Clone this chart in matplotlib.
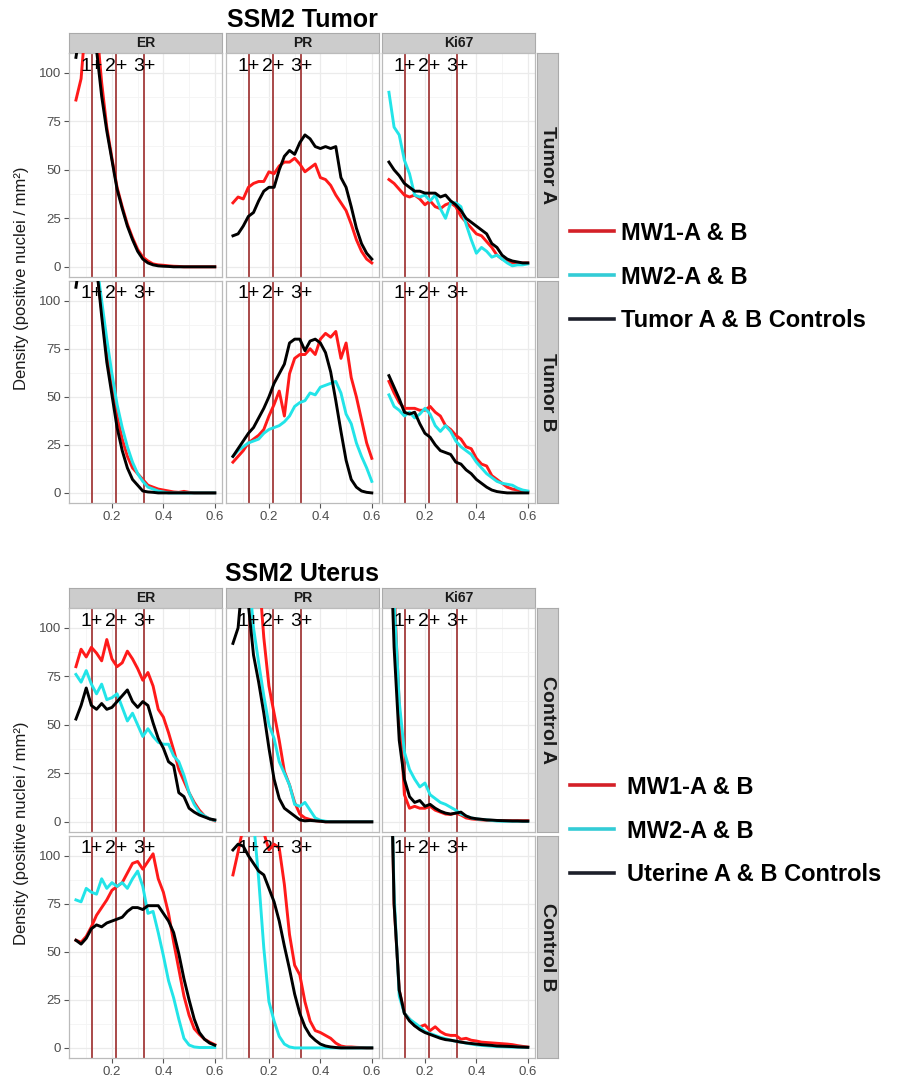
import matplotlib
matplotlib.use("Agg")
import matplotlib.pyplot as plt
from matplotlib.lines import Line2D

plt.rcParams['font.family'] = ['Liberation Sans', 'DejaVu Sans']

# x positions (intensity) shared by all curves
x = [0.06, 0.08, 0.10, 0.12, 0.14, 0.16, 0.18, 0.20, 0.22, 0.24, 0.26, 0.28, 0.30, 0.32,
     0.34, 0.36, 0.38, 0.40, 0.42, 0.44, 0.46, 0.48, 0.50, 0.52, 0.54, 0.56, 0.58, 0.60]

markers = ['ER', 'PR', 'Ki67']
tumor_rows = ['Tumor A', 'Tumor B']
uterus_rows = ['Control A', 'Control B']
cutoffs = [0.122, 0.216, 0.326]
cutoff_labels = ['1+', '2+', '3+']

# ---- SSM2 Tumor ----
tumorA_ER_mw1 = [86, 97, 130, 130, 125, 95, 72, 56, 41, 31, 22, 15, 9, 5, 3, 1.5, 1, 0.8, 0.5, 0.3, 0.2, 0, 0, 0, 0, 0, 0, 0]
tumorA_ER_mw2 = None
tumorA_ER_ctrl = [108, 125, 135, 130, 112, 88, 70, 55, 40, 30, 21, 14, 8, 4, 2, 1, 0.5, 0.3, 0.2, 0, 0, 0, 0, 0, 0, 0, 0, 0]
tumorA_PR_mw1 = [33, 36, 35, 41, 43, 44, 44, 49, 48, 52, 54, 54, 56, 53, 49, 51, 53, 46, 45, 42, 37, 33, 29, 22, 14, 8, 4, 2]
tumorA_PR_mw2 = None
tumorA_PR_ctrl = [16, 17, 21, 26, 28, 34, 39, 41, 41, 50, 57, 60, 58, 64, 68, 66, 62, 61, 62, 61, 62, 46, 41, 31, 20, 12, 7, 4]
tumorA_Ki67_mw1 = [45, 43, 40, 37, 36, 37, 35, 32, 34, 31, 30, 32, 33, 31, 26, 23, 20, 17, 16, 13, 10, 6, 4, 3, 2, 2, 2, 2]
tumorA_Ki67_mw2 = [90, 72, 68, 55, 48, 37, 36, 37, 34, 37, 30, 25, 33, 33, 31, 22, 14, 7, 10, 8, 5, 6, 4, 2, 0.5, 1, 1, 1.5]
tumorA_Ki67_ctrl = [54, 50, 47, 43, 41, 39, 39, 38, 38, 38, 36, 37, 34, 32, 29, 25, 23, 21, 19, 17, 12, 10, 6, 4, 3, 2.5, 2, 2]

tumorB_ER_mw1 = [140, 140, 140, 140, 118, 95, 72, 55, 40, 28, 19, 13, 10, 7, 4, 3, 2, 1.5, 1, 0.5, 0.3, 0.8, 0.3, 0, 0, 0, 0, 0]
tumorB_ER_mw2 = [140, 140, 140, 140, 120, 100, 80, 62, 46, 34, 24, 16, 10, 6, 3, 2, 1, 0.5, 0, 0, 0, 0, 0, 0, 0, 0, 0, 0]
tumorB_ER_ctrl = [107, 125, 140, 135, 118, 92, 68, 51, 34, 22, 13, 7, 4, 1, 0.5, 0.3, 0, 0, 0, 0, 0, 0, 0, 0, 0, 0, 0, 0]
tumorB_PR_mw1 = [16, 19, 22, 26, 28, 30, 33, 40, 46, 53, 40, 62, 70, 72, 72, 75, 72, 80, 83, 81, 84, 70, 78, 60, 50, 38, 26, 18]
tumorB_PR_mw2 = [19, 22, 24, 26, 27, 28, 31, 33, 34, 35, 37, 40, 45, 47, 48, 52, 51, 55, 56, 57, 58, 52, 41, 36, 26, 19, 13, 6]
tumorB_PR_ctrl = [19, 23, 27, 31, 34, 39, 44, 50, 57, 62, 67, 78, 80, 80, 74, 79, 80, 78, 73, 63, 48, 32, 17, 7, 3, 1, 0.3, 0]
tumorB_Ki67_mw1 = [58, 52, 47, 44, 44, 44, 43, 43, 45, 42, 40, 35, 33, 30, 28, 24, 23, 18, 15, 14, 9, 7, 5, 3, 2, 1.5, 1, 0.5]
tumorB_Ki67_mw2 = [51, 45, 43, 40, 42, 39, 41, 44, 41, 35, 32, 35, 32, 27, 24, 22, 20, 16, 13, 10, 8, 6, 5, 4.5, 4, 2.5, 1.5, 1]
tumorB_Ki67_ctrl = [61, 55, 49, 42, 41, 42, 36, 31, 29, 25, 22, 21, 20, 16, 15, 12, 10, 7, 5, 3, 1.5, 0.7, 0.3, 0, 0, 0, 0, 0]

# ---- SSM2 Uterus ----
ctrlA_ER_mw1 = [80, 89, 85, 90, 87, 83, 94, 84, 80, 82, 88, 84, 79, 73, 77, 70, 58, 54, 46, 37, 27, 21, 15, 10, 6, 3, 1.5, 0.5]
ctrlA_ER_mw2 = [76, 72, 78, 71, 66, 71, 63, 64, 66, 59, 52, 56, 50, 44, 48, 44, 41, 40, 40, 34, 31, 24, 15, 9, 5, 3, 1.5, 0.7]
ctrlA_ER_ctrl = [53, 60, 69, 60, 58, 61, 58, 59, 62, 65, 68, 62, 59, 62, 60, 51, 43, 38, 31, 29, 15, 13, 7, 5, 3.5, 2.5, 1.5, 1]
ctrlA_PR_mw1 = [130, 130, 130, 130, 130, 130, 95, 70, 56, 42, 26, 19, 10, 4, 2, 1.2, 0.6, 0.3, 0, 0, 0, 0, 0, 0, 0, 0, 0, 0]
ctrlA_PR_mw2 = [130, 130, 130, 130, 100, 82, 65, 50, 43, 31, 25, 19, 9, 8, 10, 6, 2, 0.8, 0.3, 0, 0, 0, 0, 0, 0, 0, 0, 0]
ctrlA_PR_ctrl = [92, 100, 130, 112, 86, 72, 56, 38, 22, 12, 7, 5, 3, 1, 0.5, 0.7, 0.5, 0.3, 0, 0, 0, 0, 0, 0, 0, 0, 0, 0]
ctrlA_Ki67_mw1 = [190, 120, 60, 14, 7, 8, 7, 7, 8, 6, 5, 4, 3.8, 4.5, 3.5, 2, 1.5, 1.2, 1, 0.8, 0.7, 0.7, 0.7, 0.7, 0.7, 0.7, 0.7, 0.7]
ctrlA_Ki67_mw2 = [180, 115, 62, 36, 27, 22, 18, 20, 14, 12, 10, 9, 7.5, 6, 4, 3, 2, 1.5, 1.2, 1, 0.7, 0.4, 0.3, 0.3, 0.3, 0.3, 0.3, 0.3]
ctrlA_Ki67_ctrl = [170, 90, 42, 22, 13, 10, 11, 8, 9, 7, 5.5, 4.5, 4, 4.5, 5, 3, 2, 1.6, 1.3, 1, 0.9, 0.7, 0.6, 0.5, 0.4, 0.4, 0.3, 0.3]

ctrlB_ER_mw1 = [56, 55, 58, 63, 69, 73, 77, 82, 84, 86, 91, 96, 97, 93, 97, 101, 88, 81, 70, 55, 41, 27, 17, 10, 7, 4.5, 3, 1.7]
ctrlB_ER_mw2 = [77, 76, 83, 81, 80, 88, 83, 86, 84, 86, 83, 88, 92, 84, 70, 71, 60, 48, 35, 26, 15, 5, 1.5, 0.5, 0.2, 0.2, 0.2, 0.2]
ctrlB_ER_ctrl = [56, 54, 57, 62, 64, 63, 65, 66, 67, 68, 71, 73, 73, 72, 74, 74, 74, 70, 66, 60, 49, 36, 25, 15, 8, 4.5, 2.5, 1.4]
ctrlB_PR_mw1 = [90, 102, 115, 125, 125, 120, 112, 103, 106, 104, 85, 59, 43, 38, 24, 14, 9, 8, 6.5, 5, 2.5, 1, 0.5, 0.5, 0.3, 0.2, 0, 0]
ctrlB_PR_mw2 = [130, 130, 130, 130, 118, 88, 52, 24, 14, 6, 2, 0.5, 0, 0, 0, 0, 0, 0, 0, 0, 0, 0, 0, 0, 0, 0, 0, 0]
ctrlB_PR_ctrl = [103, 106, 105, 100, 96, 92, 90, 83, 76, 66, 53, 41, 28, 18, 11, 6.5, 4, 2, 1, 0.5, 0.2, 0, 0, 0, 0, 0, 0, 0]
ctrlB_Ki67_mw1 = [200, 75, 30, 18, 15, 11.5, 11, 12, 9, 11, 8.5, 7, 6.5, 6.5, 4.5, 5, 4, 3.6, 3, 2.8, 2.6, 2.4, 2.2, 2, 1.7, 1.2, 0.8, 0.5]
ctrlB_Ki67_mw2 = [200, 80, 27, 18, 15, 13, 11, 8.5, 7.5, 6.5, 5.5, 4.8, 4, 3.5, 3, 2.5, 2, 1.6, 1.3, 1.1, 0.9, 0.7, 0.6, 0.5, 0.4, 0.4, 0.3, 0.3]
ctrlB_Ki67_ctrl = [200, 75, 30, 18, 14, 11.5, 9.5, 8, 7, 6, 5, 4.3, 4, 3.5, 3, 2.6, 2.3, 2, 1.7, 1.5, 1.3, 1, 0.9, 0.8, 0.7, 0.5, 0.4, 0.3]

tumor_panels = [
    [(tumorA_ER_mw1, tumorA_ER_mw2, tumorA_ER_ctrl),
     (tumorA_PR_mw1, tumorA_PR_mw2, tumorA_PR_ctrl),
     (tumorA_Ki67_mw1, tumorA_Ki67_mw2, tumorA_Ki67_ctrl)],
    [(tumorB_ER_mw1, tumorB_ER_mw2, tumorB_ER_ctrl),
     (tumorB_PR_mw1, tumorB_PR_mw2, tumorB_PR_ctrl),
     (tumorB_Ki67_mw1, tumorB_Ki67_mw2, tumorB_Ki67_ctrl)],
]
uterus_panels = [
    [(ctrlA_ER_mw1, ctrlA_ER_mw2, ctrlA_ER_ctrl),
     (ctrlA_PR_mw1, ctrlA_PR_mw2, ctrlA_PR_ctrl),
     (ctrlA_Ki67_mw1, ctrlA_Ki67_mw2, ctrlA_Ki67_ctrl)],
    [(ctrlB_ER_mw1, ctrlB_ER_mw2, ctrlB_ER_ctrl),
     (ctrlB_PR_mw1, ctrlB_PR_mw2, ctrlB_PR_ctrl),
     (ctrlB_Ki67_mw1, ctrlB_Ki67_mw2, ctrlB_Ki67_ctrl)],
]

line_colors = ['#FF1A1A', '#22E4E8', '#000000']
legend_colors = ['#D42027', '#33CCD6', '#1C1F2A']

W, H = 902, 1081
fig = plt.figure(figsize=(W / 100, H / 100), dpi=100)


def rect(l, t, w, h):
    return [l / W, 1 - (t + h) / H, w / W, h / H]


col_left = [69, 226, 382]
col_w = 153
row_h = [224, 222]


def draw_grid(top, title, title_y, rows, panels, labels, leg_y, leg_pad):
    fig.text(302 / W, 1 - title_y / H, title, ha='center', va='center',
             fontsize=18, fontweight='bold')
    row_tops = [top + 20, top + 20 + row_h[0] + 4]
    for c, m in enumerate(markers):
        sax = fig.add_axes(rect(col_left[c], top, col_w, 20))
        sax.set_facecolor('#CCCCCC')
        sax.set_xticks([]); sax.set_yticks([])
        for s in sax.spines.values():
            s.set_color('#AAAAAA')
        sax.text(0.5, 0.48, m, ha='center', va='center', fontsize=10,
                 fontweight='bold', color='#1A1A1A', transform=sax.transAxes)
    for r, rname in enumerate(rows):
        rax = fig.add_axes(rect(537, row_tops[r], 21, row_h[r]))
        rax.set_facecolor('#CCCCCC')
        rax.set_xticks([]); rax.set_yticks([])
        for s in rax.spines.values():
            s.set_color('#AAAAAA')
        rax.text(0.5, 0.5, rname, ha='center', va='center', rotation=-90,
                 fontsize=14, fontweight='bold', color='#1A1A1A', transform=rax.transAxes)
        for c in range(3):
            ax = fig.add_axes(rect(col_left[c], row_tops[r], col_w, row_h[r]))
            ax.set_xlim(0.033, 0.628)
            ax.set_ylim(-5.25, 110.25)
            ax.set_xticks([0.2, 0.4, 0.6])
            ax.set_xticks([0.1, 0.3, 0.5], minor=True)
            ax.set_yticks([0, 25, 50, 75, 100])
            ax.set_yticks([12.5, 37.5, 62.5, 87.5], minor=True)
            ax.grid(which='major', color='#EBEBEB', linewidth=0.9)
            ax.grid(which='minor', color='#F4F4F4', linewidth=0.6)
            ax.set_axisbelow(True)
            for s in ax.spines.values():
                s.set_color('#BBBBBB')
                s.set_linewidth(0.9)
            ax.tick_params(which='minor', length=0)
            ax.tick_params(which='major', length=3.5, width=0.8, color='#555555',
                           labelsize=9.5, labelcolor='#4D4D4D', pad=2)
            if r == 0:
                ax.tick_params(axis='x', length=0, labelbottom=False)
            else:
                ax.set_xticklabels(['0.2', '0.4', '0.6'])
            if c > 0:
                ax.tick_params(axis='y', length=0, labelleft=False)
            for cx in cutoffs:
                ax.axvline(cx, color='#A33A3A', linewidth=1.3, zorder=2)
            for series, col in zip(panels[r][c], line_colors):
                if series is not None:
                    ax.plot(x, series, color=col, linewidth=2.1, zorder=3,
                            solid_joinstyle='round')
            for cx, lab in zip(cutoffs, cutoff_labels):
                ax.text(cx, 103.5, lab, ha='center', va='center', fontsize=14, zorder=4)
    mid = (row_tops[0] + row_tops[1] + row_h[1]) / 2
    fig.text(22 / W, 1 - mid / H, 'Density (positive nuclei / mm²)', rotation=90,
             ha='center', va='center', fontsize=12, color='#1A1A1A')
    handles = [Line2D([], [], color=c, linewidth=2.6) for c in legend_colors]
    fig.legend(handles, labels, loc='center left',
               bbox_to_anchor=(570 / W, 1 - leg_y / H), frameon=False,
               prop={'size': 17, 'weight': 'bold'}, handlelength=1.85,
               handletextpad=leg_pad, labelspacing=0.88, borderpad=0, borderaxespad=0)


draw_grid(33, 'SSM2 Tumor', 20, tumor_rows, tumor_panels,
          ['MW1-A & B', 'MW2-A & B', 'Tumor A & B Controls'], 277, 0.3)
draw_grid(588, 'SSM2 Uterus', 574, uterus_rows, uterus_panels,
          ['MW1-A & B', 'MW2-A & B', 'Uterine A & B Controls'], 831, 0.55)

fig.savefig('out.png', dpi=100)
